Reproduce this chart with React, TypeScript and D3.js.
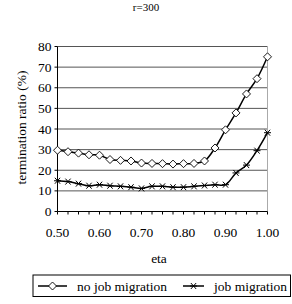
import React from "react";
import * as d3 from "d3";

const etaValues = [0.5, 0.525, 0.55, 0.575, 0.6, 0.625, 0.65, 0.675, 0.7, 0.725, 0.75, 0.775, 0.8, 0.825, 0.85, 0.875, 0.9, 0.925, 0.95, 0.975, 1.0];
const noMigration = [29.7, 29.0, 28.3, 27.5, 27.3, 25.2, 24.8, 24.5, 23.5, 23.3, 23.2, 23.0, 23.2, 23.3, 24.5, 30.8, 39.6, 47.8, 57.0, 64.4, 75.0];
const withMigration = [14.9, 14.5, 13.5, 12.5, 13.0, 12.5, 12.2, 11.8, 11.2, 12.2, 12.2, 11.8, 11.8, 12.2, 12.6, 13.0, 13.0, 18.7, 22.5, 29.5, 38.2];
const yTicks = [0, 10, 20, 30, 40, 50, 60, 70, 80];
const xTickLabels = [0.5, 0.6, 0.7, 0.8, 0.9, 1.0];
const seriesNames = ["no job migration", "job migration"];

const FONT = "Liberation Serif";

function Diamond({ x, y }: { x: number; y: number }) {
  const r = 4;
  return (
    <path
      d={`M${x},${y - r}L${x + r},${y}L${x},${y + r}L${x - r},${y}Z`}
      fill="#fff"
      stroke="#000"
      strokeWidth={0.9}
    />
  );
}

function Star({ x, y }: { x: number; y: number }) {
  const r = 3.5;
  return (
    <g stroke="#000" strokeWidth={1}>
      <line x1={x - r} y1={y} x2={x + r} y2={y} />
      <line x1={x - r * 0.75} y1={y - r * 0.85} x2={x + r * 0.75} y2={y + r * 0.85} />
      <line x1={x - r * 0.75} y1={y + r * 0.85} x2={x + r * 0.75} y2={y - r * 0.85} />
    </g>
  );
}

export default function App() {
  const W = 292, H = 304;
  const x = d3.scaleLinear().domain([0.5, 1.0]).range([57.5, 267.5]);
  const y = d3.scaleLinear().domain([0, 80]).range([211.5, 46.5]);
  const line = d3
    .line<number>()
    .x((_, i) => x(etaValues[i]))
    .y((d) => y(d))
    .curve(d3.curveCatmullRom.alpha(0.5));

  const ts = { fontFamily: FONT };
  const FS = 13.5;

  return (
    <svg width={W} height={H} style={{ position: "absolute", left: 0, top: 0 }}>
      <rect width={W} height={H} fill="#fff" />
      <text x={146} y={11} style={ts} fontSize={11} textAnchor="middle">r=300</text>
      {yTicks.map((t) => (
        <g key={t}>
          {t > 0 && (
            <line x1={x(0.5)} x2={x(1.0)} y1={y(t)} y2={y(t)} stroke="#555" strokeWidth={1} />
          )}
          <line x1={x(0.5) - 3} x2={x(0.5)} y1={y(t)} y2={y(t)} stroke="#000" />
          <text x={51.5} y={y(t) + 4.5} style={ts} fontSize={FS} textAnchor="end">{t}</text>
        </g>
      ))}
      <line x1={x(1.0)} x2={x(1.0)} y1={y(80)} y2={y(0)} stroke="#aaa" />
      <line x1={x(0.5)} x2={x(0.5)} y1={y(80)} y2={y(0)} stroke="#000" />
      <line x1={x(0.5)} x2={x(1.0)} y1={y(0)} y2={y(0)} stroke="#000" />
      {etaValues.map((e, i) => (
        <line key={i} x1={x(e)} x2={x(e)} y1={y(0)} y2={y(0) + 3} stroke="#000" />
      ))}
      {xTickLabels.map((t) => (
        <text key={t} x={x(t)} y={236.5} style={ts} fontSize={FS} textAnchor="middle">{t.toFixed(2)}</text>
      ))}
      <text x={159} y={262.5} style={ts} fontSize={FS} textAnchor="middle">eta</text>
      <text
        transform={`translate(25.5,127.5) rotate(-90)`}
        style={ts}
        fontSize={FS}
        textAnchor="middle"
      >
        termination ratio (%)
      </text>
      <path d={line(noMigration) || ""} fill="none" stroke="#000" strokeWidth={1.5} />
      <path d={line(withMigration) || ""} fill="none" stroke="#000" strokeWidth={1.5} />
      {noMigration.map((v, i) => (
        <Diamond key={i} x={x(etaValues[i])} y={y(v)} />
      ))}
      {withMigration.map((v, i) => (
        <Star key={i} x={x(etaValues[i])} y={y(v)} />
      ))}
      <rect x={33} y={275} width={257.5} height={21.5} fill="none" stroke="#000" strokeWidth={1} />
      <line x1={38} x2={67} y1={286} y2={286} stroke="#000" strokeWidth={1.5} />
      <Diamond x={52.5} y={286} />
      <text x={77} y={290.5} style={ts} fontSize={FS}>{seriesNames[0]}</text>
      <line x1={183} x2={204} y1={286} y2={286} stroke="#000" strokeWidth={1.5} />
      <Star x={193.5} y={286} />
      <text x={214} y={290.5} style={ts} fontSize={FS}>{seriesNames[1]}</text>
    </svg>
  );
}
